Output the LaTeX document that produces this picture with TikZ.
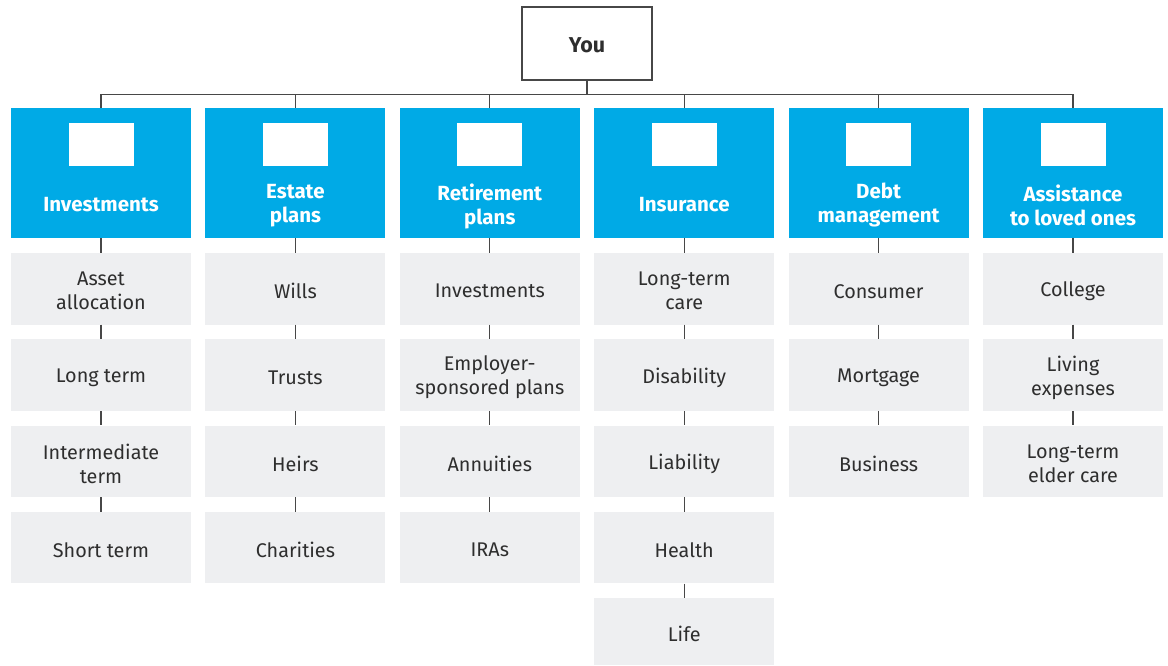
\documentclass[tikz,border=0pt]{standalone}
\usepackage{fontspec}
\setmainfont{Fira Sans}
\definecolor{eyblue}{HTML}{00AAE6}
\definecolor{itemgray}{HTML}{EEEFF1}
\definecolor{textgray}{HTML}{2E2E2E}
\definecolor{linegray}{HTML}{474747}
\newcommand\itemcell[5][itembox]{%
  \node[#1] (#2) at (#3,#4) {};
  \node[itemtext] (#2t) at (#3,#4+2.5) {#5};}
\newcommand\headcell[4]{%
  \node[headbox] (#1) at (#2,173) {};
  \node[iconbox] (#1i) at (#2,144.5) {};
  \node[headtext] (#1t) at (#2,#3) {#4};}
\begin{document}
\begin{tikzpicture}[x=1pt,y=-1pt,
  youbox/.style={draw=linegray, line width=1.5pt, fill=white, minimum width=130pt, minimum height=73pt, inner sep=0pt},
  youtext/.style={font=\fontsize{21.5}{24}\selectfont\bfseries, text=textgray, inner sep=0pt},
  headbox/.style={fill=eyblue, minimum width=180pt, minimum height=130pt, inner sep=0pt},
  iconbox/.style={fill=white, minimum width=65pt, minimum height=43pt, inner sep=0pt},
  headtext/.style={text=white, font=\fontsize{20.5}{24}\selectfont\bfseries, align=center, inner sep=0pt},
  itembox/.style={fill=itemgray, minimum width=180pt, minimum height=71.5pt, inner sep=0pt},
  lastbox/.style={itembox, minimum height=67pt},
  itemtext/.style={text=textgray, font=\fontsize{19.8}{24}\selectfont, align=center, inner sep=0pt},
  conn/.style={draw=linegray, line width=1.1pt}
]
\useasboundingbox (0,0) rectangle (1168,665);

\node[youbox] (you) at (587,43.5) {};
\node[youtext] (yout) at (587,45.5) {You};

% headers
\headcell{h1}{101}{204.5}{Investments}
\headcell{h2}{295.4}{206}{Estate\\plans}
\headcell{h3}{489.8}{206}{Retirement\\plans}
\headcell{h4}{684.2}{204.5}{Insurance}
\headcell{h5}{878.6}{205}{Debt\\management}
\headcell{h6}{1073}{205}{Assistance\\to loved ones}

% column 1
\itemcell{a1}{101}{288.75}{Asset\\allocation}
\itemcell{a2}{101}{375.05}{Long term}
\itemcell{a3}{101}{461.35}{Intermediate\\term}
\itemcell{a4}{101}{547.65}{Short term}
% column 2
\itemcell{b1}{295.4}{288.75}{Wills}
\itemcell{b2}{295.4}{375.05}{Trusts}
\itemcell{b3}{295.4}{461.35}{Heirs}
\itemcell{b4}{295.4}{547.65}{Charities}
% column 3
\itemcell{c1}{489.8}{288.75}{Investments}
\itemcell{c2}{489.8}{375.05}{Employer-\\sponsored plans}
\itemcell{c3}{489.8}{461.35}{Annuities}
\itemcell{c4}{489.8}{547.65}{IRAs}
% column 4
\itemcell{d1}{684.2}{288.75}{Long-term\\care}
\itemcell{d2}{684.2}{375.05}{Disability}
\itemcell{d3}{684.2}{461.35}{Liability}
\itemcell{d4}{684.2}{547.65}{Health}
\itemcell[lastbox]{d5}{684.2}{631.5}{Life}
% column 5
\itemcell{e1}{878.6}{288.75}{Consumer}
\itemcell{e2}{878.6}{375.05}{Mortgage}
\itemcell{e3}{878.6}{461.35}{Business}
% column 6
\itemcell{f1}{1073}{288.75}{College}
\itemcell{f2}{1073}{375.05}{Living\\expenses}
\itemcell{f3}{1073}{461.35}{Long-term\\elder care}

% top connectors
\draw[conn] (you.south) -- ++(0,14) coordinate (bus);
\draw[conn] (h1.north) -- (h1.north |- bus) -- (h6.north |- bus) -- (h6.north);
\foreach \h in {h2,h3,h4,h5} \draw[conn] (\h.north) -- (\h.north |- bus);

% column connectors
\foreach \u/\v in {h1/a1,a1/a2,a2/a3,a3/a4,
                   h2/b1,b1/b2,b2/b3,b3/b4,
                   h3/c1,c1/c2,c2/c3,c3/c4,
                   h4/d1,d1/d2,d2/d3,d3/d4,d4/d5,
                   h5/e1,e1/e2,e2/e3,
                   h6/f1,f1/f2,f2/f3}
  \draw[conn] (\u.south) -- (\v.north);
\end{tikzpicture}
\end{document}
